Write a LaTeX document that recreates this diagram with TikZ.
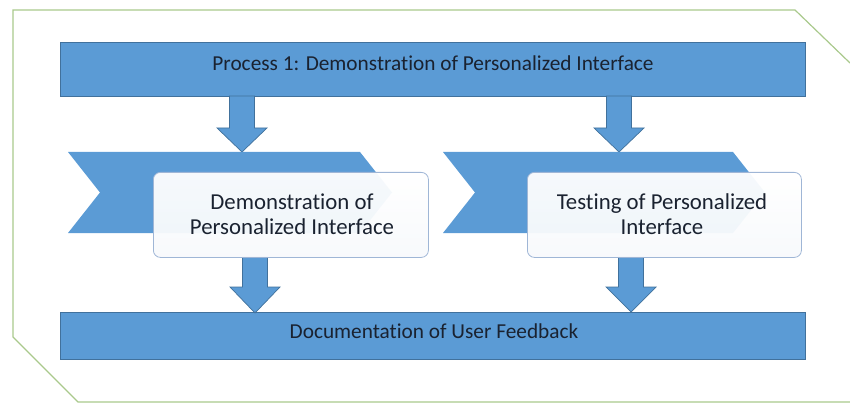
\documentclass[tikz,border=0pt]{standalone}
\usepackage{fontspec}
\setmainfont[Ligatures=CommonOff]{Carlito}
\usetikzlibrary{calc}
\definecolor{barblue}{HTML}{5B9BD5}
\definecolor{baredge}{HTML}{41719C}
\definecolor{framegreen}{HTML}{A9C98C}
\definecolor{boxedge}{HTML}{9FB6D6}
\definecolor{inktext}{HTML}{1A2230}
\tikzset{
  bar/.style={draw=baredge, fill=barblue, line width=0.9pt},
  barlabel/.style={text=inktext, font=\fontsize{21.3}{24}\selectfont},
  chevron/.style={fill=barblue, draw=none},
  stagebox/.style={draw=boxedge, line width=0.8pt, rounded corners=7pt, top color=white, bottom color=white!92!boxedge, fill opacity=0.95},
  stagelabel/.style={text=inktext, align=center, font=\fontsize{22.8}{24.5}\selectfont},
  blockarrow/.style={fill=barblue, draw=baredge, line width=0.7pt, line join=miter}
}
% block arrow pointing down: centre x, top y, start of head y, tip y
\newcommand\downblock[4]{%
  \path[blockarrow] (#1-12.5,#2) -- (#1+12.5,#2) -- (#1+12.5,#3) -- (#1+25,#3)
    -- (#1,#4) -- (#1-25,#3) -- (#1-12.5,#3) -- cycle;}
\begin{document}
\begin{tikzpicture}[x=1pt, y=-1pt]
\useasboundingbox (0,0) rectangle (850,403);
% outer frame
\draw[framegreen, line width=1.2pt] (850,63) -- (795,10) -- (13,10) -- (13,337) -- (78,402) -- (850,402);

% top and bottom bars
\node[bar, minimum width=745pt, minimum height=54pt, anchor=north west] (proc) at (60,42) {};
\node[barlabel] (proclabel) at (433,63) {Process 1: Demonstration of Personalized Interface};
\node[bar, minimum width=745pt, minimum height=47pt, anchor=north west] (doc) at (60,312) {};
\node[barlabel] (doclabel) at (434,331) {Documentation of User Feedback};

% arrows from the top bar into the stages
\downblock{242}{96}{128}{152}
\downblock{619}{96}{128}{152}

% chevrons
\path[chevron] (68,152) -- (360,152) -- (392,192.5) -- (360,233) -- (68,233) -- (100,192.5) -- cycle;
\path[chevron] (443,152) -- (733,152) -- (765,192.5) -- (733,233) -- (443,233) -- (475,192.5) -- cycle;

% arrows from the stages into the bottom bar
\downblock{255}{257}{287}{313}
\downblock{631}{257}{287}{312}

% stage boxes
\node[stagebox, minimum width=275pt, minimum height=85pt, anchor=north west] (demo) at (153,172) {};
\node[stagelabel] (demolabel) at (292,214) {Demonstration of\\Personalized Interface};
\node[stagebox, minimum width=274pt, minimum height=85pt, anchor=north west] (test) at (527,172) {};
\node[stagelabel] (testlabel) at (662,214) {Testing of Personalized\\Interface};
\end{tikzpicture}
\end{document}
